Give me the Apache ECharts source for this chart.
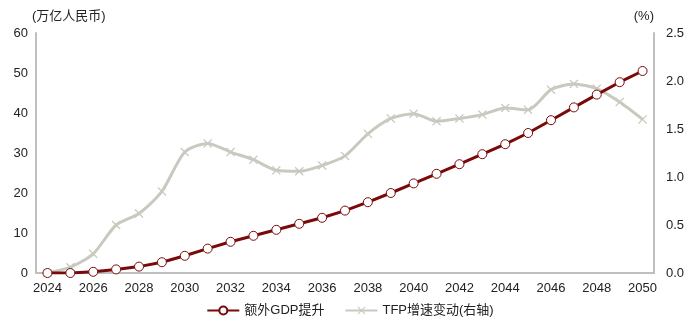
<!DOCTYPE html>
<html><head><meta charset="utf-8">
<script src="https://cdn.jsdelivr.net/npm/echarts@6/dist/echarts.min.js"></script>
<style>html,body{margin:0;padding:0;background:#fff}#c{width:700px;height:328px}</style>
</head><body><div id="c"></div>
<script>
const years = ['2024','2025','2026','2027','2028','2029','2030','2031','2032','2033','2034','2035','2036','2037','2038','2039','2040','2041','2042','2043','2044','2045','2046','2047','2048','2049','2050'];
const gdpExtra = [0,0,0.3,0.9,1.6,2.7,4.3,6.1,7.8,9.3,10.8,12.3,13.8,15.6,17.7,20.0,22.4,24.8,27.2,29.7,32.2,35.0,38.2,41.4,44.6,47.7,50.5];
const tfpChange = [0,0.06,0.2,0.5,0.62,0.85,1.26,1.35,1.26,1.18,1.07,1.06,1.12,1.22,1.45,1.61,1.66,1.58,1.61,1.65,1.72,1.7,1.91,1.97,1.92,1.78,1.6];
const leftName = '(万亿人民币)';
const rightName = '(%)';
const seriesNames = ['额外GDP提升','TFP增速变动(右轴)'];

const font = 'Liberation Sans, Arial, Noto Sans CJK SC, sans-serif';
const xSym = 'path://M0,1L1,0L5,4L9,0L10,1L6,5L10,9L9,10L5,6L1,10L0,9L4,5Z';
const chart = echarts.init(document.getElementById('c'));
chart.setOption({
  animation:false,
  textStyle:{fontFamily:font},
  grid:{left:36,right:46,top:33,bottom:55},
  legend:{
    bottom:6,left:'center',itemWidth:32,itemHeight:10,itemGap:20,
    textStyle:{fontSize:13,color:'#222',fontFamily:font},
    data:seriesNames
  },
  xAxis:{
    type:'category',data:years,boundaryGap:true,
    axisLine:{lineStyle:{color:'#bfbfbf',width:2}},
    axisTick:{show:false},
    axisLabel:{interval:1,color:'#222',fontSize:13,margin:9,fontFamily:font}
  },
  yAxis:[{
    type:'value',min:0,max:60,interval:10,
    name:leftName,nameLocation:'end',nameGap:10,
    nameTextStyle:{color:'#222',fontSize:13,align:'left',padding:[0,0,0,-4]},
    axisLine:{show:true,lineStyle:{color:'#bfbfbf',width:2}},
    axisTick:{show:false},splitLine:{show:false},
    axisLabel:{color:'#222',fontSize:13,margin:8,fontFamily:font}
  },{
    type:'value',min:0,max:2.5,interval:0.5,
    name:rightName,nameLocation:'end',nameGap:10,
    nameTextStyle:{color:'#222',fontSize:13,align:'right',padding:[0,0,0,0]},
    axisLine:{show:true,lineStyle:{color:'#bfbfbf',width:2}},
    axisTick:{show:false},splitLine:{show:false},
    axisLabel:{color:'#222',fontSize:13,margin:12,fontFamily:font,formatter:v=>v.toFixed(1)}
  }],
  series:[{
    name:seriesNames[1],type:'line',yAxisIndex:1,data:tfpChange,smooth:0.25,
    lineStyle:{color:'#c9c9bf',width:3},itemStyle:{color:'#c9c9bf'},
    symbol:xSym,symbolSize:9,showSymbol:true,z:2
  },{
    name:seriesNames[0],type:'line',yAxisIndex:0,data:gdpExtra,
    lineStyle:{color:'#7a0a0a',width:3},
    itemStyle:{color:'#fff',borderColor:'#7a0a0a',borderWidth:1},
    symbol:'circle',symbolSize:9,showSymbol:true,z:3
  }]
});
</script></body></html>
